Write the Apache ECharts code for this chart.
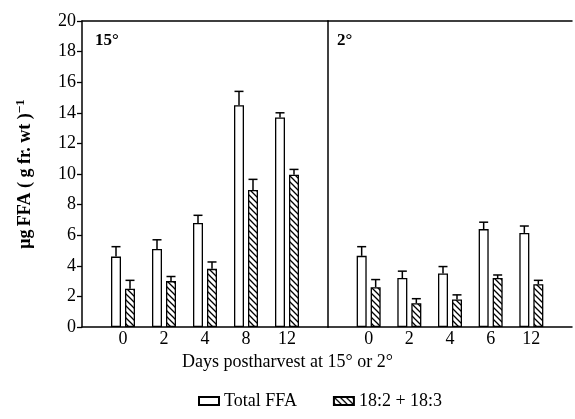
<!DOCTYPE html>
<html>
<head>
<meta charset="utf-8">
<script src="https://cdn.jsdelivr.net/npm/echarts@6/dist/echarts.min.js"></script>
<style>
  html, body { margin: 0; padding: 0; background: #fff; }
  #main { width: 575px; height: 419px; }
</style>
</head>
<body>
<div id="main"></div>
<script>
// 数据
const days15 = ['0', '2', '4', '8', '12']
const days2 = ['0', '2', '4', '6', '12']
const total15 = [4.6, 5.1, 6.8, 14.5, 13.7]
const totalErr15 = [0.65, 0.6, 0.5, 0.9, 0.3]
const pufa15 = [2.5, 3.0, 3.8, 8.95, 9.95]
const pufaErr15 = [0.55, 0.3, 0.45, 0.7, 0.35]
const total2 = [4.65, 3.2, 3.5, 6.4, 6.15]
const totalErr2 = [0.6, 0.45, 0.45, 0.45, 0.45]
const pufa2 = [2.6, 1.55, 1.8, 3.2, 2.8]
const pufaErr2 = [0.5, 0.3, 0.3, 0.2, 0.25]
const yTicks = [0, 20, 2]  // min, max, interval

const font = '"Liberation Serif", "Times New Roman", serif'

// 斜线填充
function hatch() {
  const c = document.createElement('canvas')
  c.width = 6
  c.height = 6
  const ctx = c.getContext('2d')
  ctx.fillStyle = '#fff'
  ctx.fillRect(0, 0, 6, 6)
  ctx.strokeStyle = '#000'
  ctx.lineWidth = 1.3
  ctx.beginPath()
  ctx.moveTo(-1, -1); ctx.lineTo(7, 7)
  ctx.moveTo(-1, 5); ctx.lineTo(1, 7)
  ctx.moveTo(5, -1); ctx.lineTo(7, 1)
  ctx.stroke()
  return { image: c, repeat: 'repeat' }
}
const hatchFill = hatch()

// 两端留空的类目
const pad = arr => ['', ...arr, '']
const padData = arr => ['-', ...arr, '-']

// 误差线
function errData(vals, errs) {
  return vals.map((v, i) => [i + 1, v + errs[i], v])
}
function errItem(offset) {
  return function (params, api) {
    const x = api.value(0)
    const p0 = api.coord([x, api.value(2)])
    const p1 = api.coord([x, api.value(1)])
    const cx = p0[0] + offset
    const st = { stroke: '#000', lineWidth: 1.5 }
    return {
      type: 'group',
      children: [
        { type: 'line', shape: { x1: cx, y1: p0[1], x2: cx, y2: p1[1] }, style: st },
        { type: 'line', shape: { x1: cx - 4.5, y1: p1[1], x2: cx + 4.5, y2: p1[1] }, style: st }
      ]
    }
  }
}

const axisLine = { show: true, lineStyle: { color: '#000', width: 1.5 } }

function bottomAxis(grid, cats) {
  return {
    type: 'category', gridIndex: grid, data: pad(cats), boundaryGap: false,
    axisLine: axisLine, axisTick: { show: false },
    axisLabel: { color: '#000', fontFamily: font, fontSize: 18, margin: 3, interval: 0 },
    splitLine: { show: false }
  }
}
function topAxis(grid, cats) {
  return {
    type: 'category', gridIndex: grid, position: 'top', data: pad(cats), boundaryGap: false,
    axisLine: axisLine, axisTick: { show: false }, axisLabel: { show: false }
  }
}

const barBase = { type: 'bar', barWidth: 10, barGap: '40%', silent: true }
const whiteStyle = { color: '#fff', borderColor: '#000', borderWidth: 1.3 }
const hatchStyle = { color: hatchFill, borderColor: '#000', borderWidth: 1.3 }

const myChart = echarts.init(document.querySelector('#main'))
const option = {
  animation: false,
  grid: [
    { left: 82, top: 21, width: 246, height: 306 },
    { left: 328, top: 21, width: 247, height: 306 }
  ],
  xAxis: [bottomAxis(0, days15), bottomAxis(1, days2), topAxis(0, days15), topAxis(1, days2)],
  yAxis: [
    {
      type: 'value', gridIndex: 0, min: yTicks[0], max: yTicks[1], interval: yTicks[2],
      axisLine: axisLine,
      axisTick: { show: true, length: 5, lineStyle: { color: '#000', width: 1.3 } },
      axisLabel: { color: '#000', fontFamily: font, fontSize: 18, margin: 6 },
      splitLine: { show: false },
      name: '{b|μg} {b|FFA ( g fr. wt )}{s|−1}',
      nameLocation: 'middle', nameGap: 46, nameRotate: 90,
      nameTextStyle: {
        rich: {
          b: { fontFamily: font, fontSize: 18, fontWeight: 'bold', color: '#000' },
          s: { fontFamily: font, fontSize: 13, fontWeight: 'bold', color: '#000', verticalAlign: 'top', padding: [0, 0, 9, 0] }
        }
      }
    },
    {
      type: 'value', gridIndex: 1, min: yTicks[0], max: yTicks[1], interval: yTicks[2],
      axisLine: axisLine, axisTick: { show: false }, axisLabel: { show: false },
      splitLine: { show: false }
    }
  ],
  legend: {
    left: 193, top: 387, itemWidth: 20, itemHeight: 8, itemGap: 36, icon: 'rect',
    textStyle: { fontFamily: font, fontSize: 18, color: '#000' },
    data: ['Total FFA', '18:2 + 18:3'],
    selectedMode: false
  },
  graphic: [
    { type: 'text', left: 95, top: 32, style: { text: '15°', font: 'bold 17px ' + font, fill: '#000' } },
    { type: 'text', left: 337, top: 32, style: { text: '2°', font: 'bold 17px ' + font, fill: '#000' } },
    { type: 'text', left: 'center', top: 353, style: { text: 'Days postharvest at 15° or 2°', font: '18px ' + font, fill: '#000' } }
  ],
  series: [
    { ...barBase, name: 'Total FFA', xAxisIndex: 0, yAxisIndex: 0, itemStyle: whiteStyle, data: padData(total15) },
    { ...barBase, name: '18:2 + 18:3', xAxisIndex: 0, yAxisIndex: 0, itemStyle: hatchStyle, data: padData(pufa15) },
    { ...barBase, name: 'Total FFA', xAxisIndex: 1, yAxisIndex: 1, itemStyle: whiteStyle, data: padData(total2) },
    { ...barBase, name: '18:2 + 18:3', xAxisIndex: 1, yAxisIndex: 1, itemStyle: hatchStyle, data: padData(pufa2) },
    { type: 'custom', xAxisIndex: 0, yAxisIndex: 0, renderItem: errItem(-7), data: errData(total15, totalErr15), silent: true },
    { type: 'custom', xAxisIndex: 0, yAxisIndex: 0, renderItem: errItem(7), data: errData(pufa15, pufaErr15), silent: true },
    { type: 'custom', xAxisIndex: 1, yAxisIndex: 1, renderItem: errItem(-7), data: errData(total2, totalErr2), silent: true },
    { type: 'custom', xAxisIndex: 1, yAxisIndex: 1, renderItem: errItem(7), data: errData(pufa2, pufaErr2), silent: true }
  ]
}
myChart.setOption(option)
</script>
</body>
</html>
